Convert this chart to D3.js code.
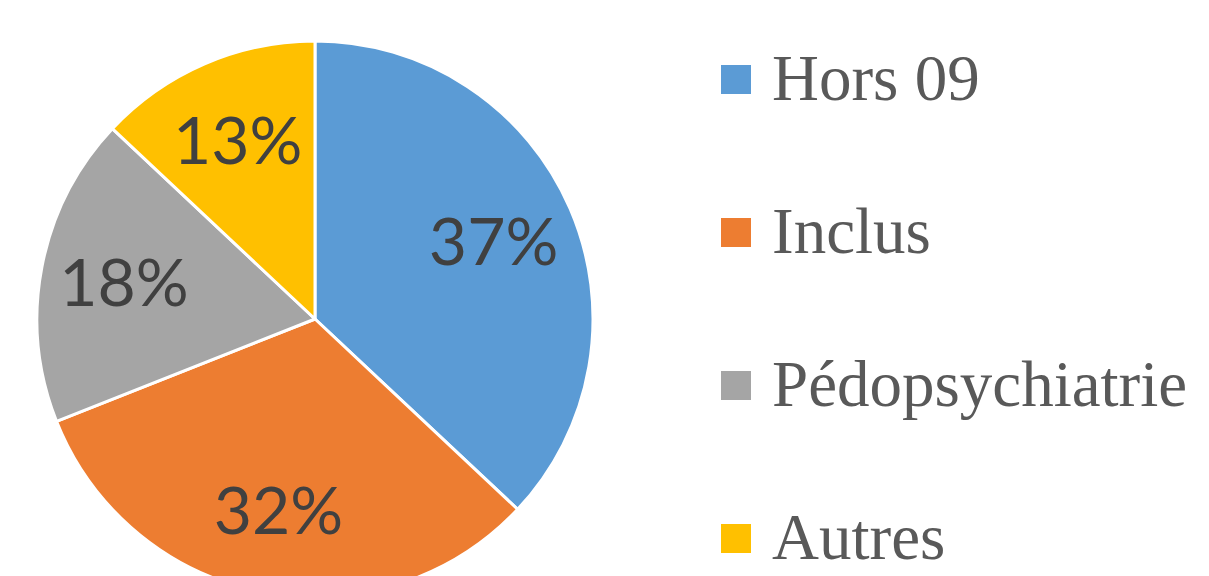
<!DOCTYPE html>
<html>
<head>
<meta charset="utf-8">
<script src="https://cdn.jsdelivr.net/npm/d3@7"></script>
<style>
  body { margin: 0; background: #fff; }
</style>
</head>
<body>
<div id="chart"></div>
<script>
// Chart data
const categories = ["Hors 09", "Inclus", "Pédopsychiatrie", "Autres"];
const values = [37, 32, 18, 13];
const colors = ["#5B9BD5", "#ED7D31", "#A5A5A5", "#FFC000"];

const width = 1209, height = 576;
const cx = 315, cy = 319, radius = 278;

const svg = d3.select("#chart")
    .append("svg")
    .attr("width", width)
    .attr("height", height);

const g = svg.append("g")
    .attr("transform", `translate(${cx},${cy})`);

// Pie layout, clockwise from 12 o'clock, keeping data order
const pie = d3.pie().sort(null).value(d => d);
const arcs = pie(values);

const arc = d3.arc().innerRadius(0).outerRadius(radius);
const labelArc = d3.arc().innerRadius(radius * 0.7).outerRadius(radius * 0.7);

g.selectAll("path.slice")
    .data(arcs)
    .enter()
    .append("path")
    .attr("class", "slice")
    .attr("d", arc)
    .attr("fill", (d, i) => colors[i])
    .attr("stroke", "#fff")
    .attr("stroke-width", 3)
    .attr("stroke-linejoin", "round");

// Percentage labels
g.selectAll("text.pct")
    .data(arcs)
    .enter()
    .append("text")
    .attr("class", "pct")
    .attr("x", d => labelArc.centroid(d)[0])
    .attr("y", d => labelArc.centroid(d)[1])
    .attr("dy", "0.36em")
    .attr("text-anchor", "middle")
    .style("font-family", "Lato, 'Open Sans', sans-serif")
    .style("font-size", "66px")
    .style("fill", "#404040")
    .text(d => d.data + "%");

// Legend
const legendY = d3.scalePoint()
    .domain(categories)
    .range([100, 559]);

const legend = svg.append("g");
const item = legend.selectAll("g.item")
    .data(categories)
    .enter()
    .append("g")
    .attr("class", "item")
    .attr("transform", d => `translate(721,${legendY(d)})`);

item.append("rect")
    .attr("x", 0)
    .attr("y", -35)
    .attr("width", 30)
    .attr("height", 29)
    .attr("fill", (d, i) => colors[i]);

item.append("text")
    .attr("x", 51)
    .attr("y", 0)
    .style("font-family", "'Liberation Serif', serif")
    .style("font-size", "65px")
    .style("fill", "#595959")
    .text(d => d);
</script>
</body>
</html>
